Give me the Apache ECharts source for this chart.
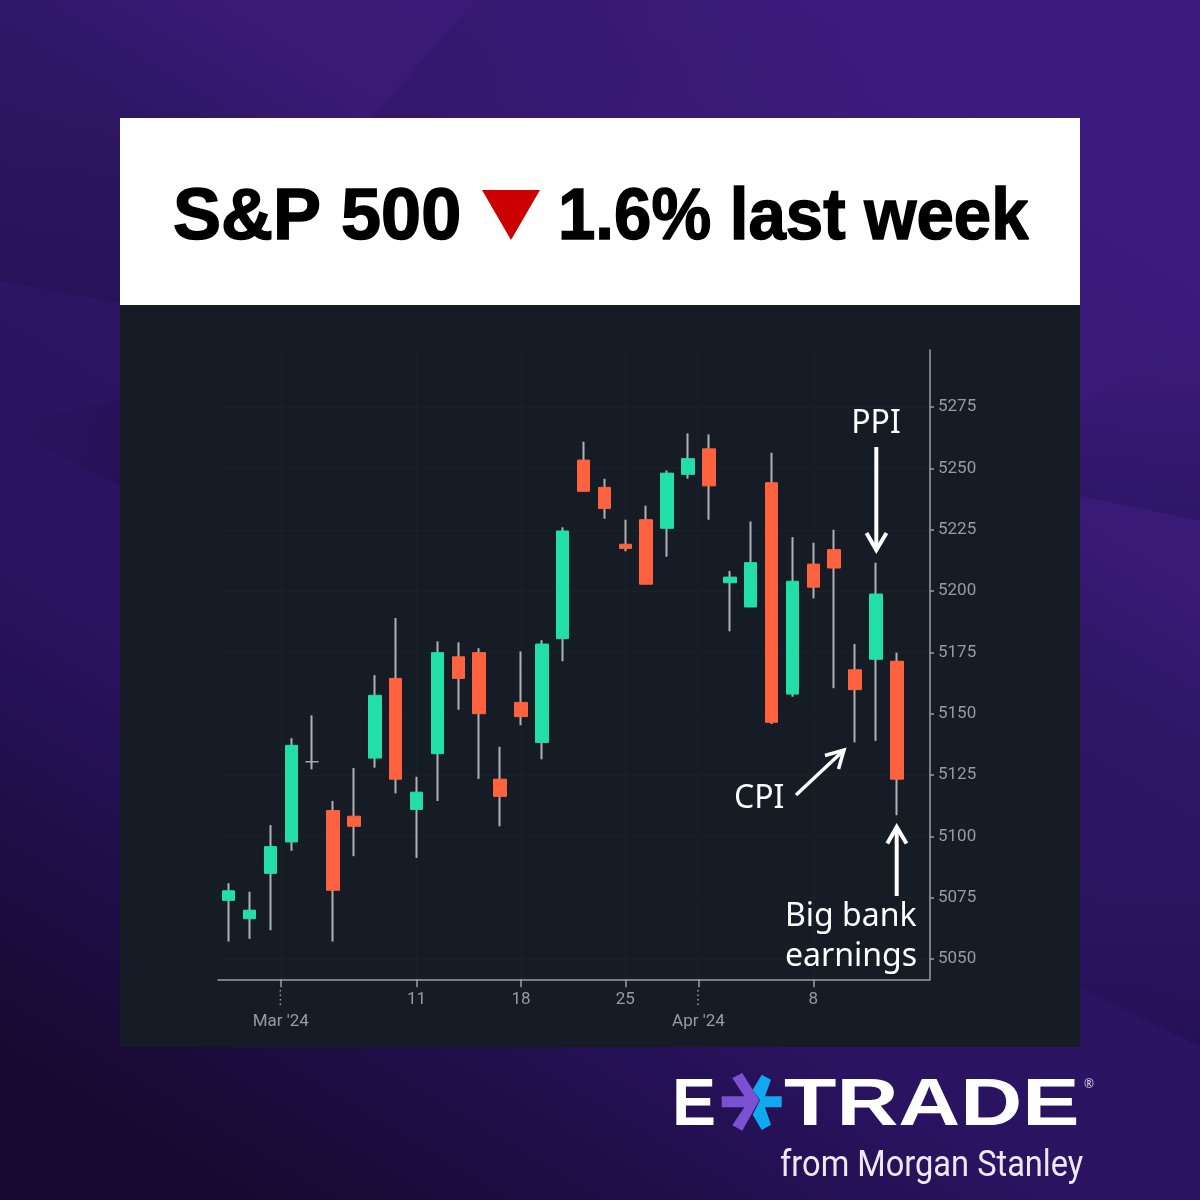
<!DOCTYPE html>
<html>
<head>
<meta charset="utf-8">
<title>S&amp;P 500</title>
<script src="https://cdn.jsdelivr.net/npm/echarts@6/dist/echarts.min.js"></script>
<style>
  html, body { margin: 0; padding: 0; background: #21104c; }
  #main { width: 1200px; height: 1200px; }
</style>
</head>
<body>
<div id="main"></div>
<script>
// sessions, Feb 27 to Apr 12 2024 (x position = index in this list)
const sessions = ['Feb 27', 'Feb 28', 'Feb 29', 'Mar 1', 'Mar 4', 'Mar 5', 'Mar 6', 'Mar 7', 'Mar 8', 'Mar 11', 'Mar 12',
  'Mar 13', 'Mar 14', 'Mar 15', 'Mar 18', 'Mar 19', 'Mar 20', 'Mar 21', 'Mar 22', 'Mar 25', 'Mar 26', 'Mar 27', 'Mar 28',
  'Apr 1', 'Apr 2', 'Apr 3', 'Apr 4', 'Apr 5', 'Apr 8', 'Apr 9', 'Apr 10', 'Apr 11', 'Apr 12']
const opens = [5073.9, 5066.4, 5084.9, 5097.7, 5130.4, 5110.5, 5108.2, 5131.9, 5164.4, 5111, 5133.7,
  5173.2, 5174.9, 5123.3, 5154.6, 5138.3, 5180.6, 5253.4, 5242.3, 5219.1, 5229.1, 5225.6, 5247.6,
  5258, 5203.4, 5193.5, 5244.2, 5158, 5211, 5216.9, 5167.9, 5172.2, 5171.4]
const closes = [5077.8, 5069.9, 5095.8, 5137.1, 5130.4, 5078, 5104.1, 5157.5, 5123.3, 5118, 5174.9,
  5164.4, 5150, 5116.3, 5148.8, 5178.4, 5224.5, 5240.7, 5233.7, 5217.4, 5202.8, 5248.1, 5254,
  5242.9, 5205.7, 5211.6, 5146.5, 5204, 5201.6, 5209.4, 5159.8, 5198.8, 5123.3]
const lows = [5057.1, 5058.2, 5061.7, 5094.1, 5127.3, 5057.1, 5091.9, 5128, 5117.5, 5091.2, 5114.4,
  5151.6, 5123.4, 5104.1, 5145.3, 5131.4, 5171.4, 5240.7, 5229.5, 5216.2, 5202.8, 5214, 5245.8,
  5229.1, 5183.6, 5193.5, 5145.8, 5156.9, 5197, 5160.4, 5138.3, 5138.9, 5108.6]
const highs = [5080.9, 5077.4, 5104.6, 5140, 5149.3, 5114.4, 5127.9, 5165.7, 5189, 5124.3, 5179.5,
  5179.1, 5176.7, 5136.5, 5175.4, 5180, 5226, 5260.9, 5245.8, 5229.1, 5234.8, 5249.2, 5264.3,
  5263.9, 5208.2, 5228.4, 5256.4, 5222, 5219.7, 5225, 5178.4, 5211.6, 5174.9]

const priceTicks = [5050, 5075, 5100, 5125, 5150, 5175, 5200, 5225, 5250, 5275]
const dateTicks = [2.5, 9, 14, 19, 22.5, 28]
const dateLabels = ["\nMar '24", '11', '18', '25', "\nApr '24", '8']

const chart = echarts.init(document.getElementById('main'), null, { renderer: 'canvas' })

const green = '#21dfa6'
const red = '#ff623f'
const wickColor = '#aeb2b6'
const axisColor = '#9b9fa4'
const labelColor = '#989ca1'
const gridColor = '#19212a'
const panelColor = '#151c25'

function poly (points, fill, z) {
  return { type: 'polygon', z: z, silent: true, shape: { points: points }, style: { fill: fill } }
}
function stroke (points, width, color, dash) {
  return {
    type: 'polyline',
    z: 100,
    silent: true,
    shape: { points: points },
    style: { stroke: color || '#fff', lineWidth: width, fill: null, lineCap: 'butt', lineJoin: 'miter', lineDash: dash || null }
  }
}
function text (str, x, y, size, opts) {
  opts = opts || {}
  return {
    type: 'text',
    z: 100,
    silent: true,
    x: x,
    y: y,
    scaleX: opts.scaleX || 1,
    style: {
      text: str,
      fontFamily: opts.family || 'Noto Sans',
      fontSize: size,
      fontWeight: opts.weight || 'normal',
      fill: opts.fill || '#fff',
      stroke: opts.stroke || null,
      lineWidth: opts.strokeWidth || 0,
      verticalAlign: 'middle',
      align: opts.align || 'left'
    }
  }
}
function fade (x, y, x2, y2, alpha) {
  return new echarts.graphic.LinearGradient(x, y, x2, y2, [
    { offset: 0, color: 'rgba(10,4,40,' + alpha + ')' },
    { offset: 1, color: 'rgba(10,4,40,0)' }
  ])
}

const elements = [
  // background facets
  poly([[475, 0], [370, 120], [880, 120], [880, 0]], fade(0, 0, 1, 0, 0.12), -5),
  poly([[0, 100], [120, 100], [120, 303], [0, 281]], fade(0, 1, 0, 0, 0.14), -5),
  poly([[0, 426], [120, 486], [120, 400]], fade(1, 0.7, 0, 0.4, 0.16), -5),
  poly([[1080, 496], [1200, 521], [1200, 340], [1080, 400]], fade(0, 1, 0, 0, 0.2), -5),
  poly([[1080, 988], [1200, 1047], [1200, 900], [1080, 880]], fade(0, 1, 0, 0, 0.2), -5),
  // panels
  { type: 'rect', z: -4, silent: true, shape: { x: 120, y: 118, width: 960, height: 187 }, style: { fill: '#fff' } },
  { type: 'rect', z: -4, silent: true, shape: { x: 120, y: 305, width: 960, height: 742 }, style: { fill: panelColor } },
  // headline
  text('S&P 500', 173, 219, 72, { family: 'Liberation Sans', weight: 'bold', fill: '#000', stroke: '#000', strokeWidth: 1.5 }),
  poly([[482, 190], [540, 190], [511, 240]], '#cc0000', 100),
  text('1.6% last week', 558, 219, 72, { family: 'Liberation Sans', weight: 'bold', fill: '#000', stroke: '#000', strokeWidth: 1.5, scaleX: 0.933 }),
  // month separators under the date axis
  stroke([[280.4, 990], [280.4, 1007]], 1.5, labelColor, [1.5, 3]),
  stroke([[698, 990], [698, 1007]], 1.5, labelColor, [1.5, 3]),
  // annotations
  text('PPI', 876, 424, 32, { align: 'center' }),
  stroke([[876.3, 447], [876.3, 549]], 4),
  stroke([[866.5, 533], [876.3, 550], [886.5, 533]], 4),
  text('CPI', 734, 799, 32),
  stroke([[796, 795], [843, 751]], 3.5),
  stroke([[825, 755.5], [844, 750], [838.5, 769]], 3.5),
  stroke([[896.7, 896], [896.7, 828]], 4),
  stroke([[887.3, 843.5], [896.7, 827], [906.5, 843.5]], 4),
  text('Big bank', 785, 917, 32),
  text('earnings', 785, 957, 32),
  // logo
  text('E', 672, 1107, 66, { family: 'Liberation Sans', weight: 'bold' }),
  poly([[721.7, 1096.3], [744.3, 1096.3], [732.3, 1078], [742.3, 1073], [759.3, 1100.3], [742.3, 1130.7], [732.3, 1125.3], [744.3, 1107.3], [721.7, 1107.3]], '#7c50d2', 100),
  poly([[752.7, 1089.7], [761.7, 1074.7], [771, 1079.7], [765, 1096.3], [781.7, 1096.3], [781.7, 1107.3], [765, 1107.3], [771, 1124.7], [761.7, 1130], [752.7, 1114.7], [760, 1100.3]], '#10a9f0', 100),
  text('TRADE', 784, 1107, 66, { family: 'Liberation Sans', weight: 'bold', scaleX: 1.3 }),
  text('®', 1084, 1085, 12, { fill: '#d8d4e6' }),
  text('from Morgan Stanley', 780, 1167, 36, { family: 'Roboto', fill: '#ece9f4', scaleX: 0.905 })
]

const option = {
  animation: false,
  backgroundColor: new echarts.graphic.LinearGradient(0.8, 0, 0.2, 1, [
    { offset: 0, color: '#3c1c7e' },
    { offset: 0.28, color: '#381a76' },
    { offset: 0.38, color: '#2e1664' },
    { offset: 0.7, color: '#2a1360' },
    { offset: 0.85, color: '#1f0e48' },
    { offset: 1, color: '#170930' }
  ]),
  grid: { left: 218, top: 350, width: 712, height: 629.3 },
  xAxis: {
    type: 'value',
    min: -0.51,
    max: 33.59,
    axisLine: { onZero: false, lineStyle: { color: axisColor, width: 1.5 } },
    axisTick: { customValues: dateTicks, length: 8, lineStyle: { color: axisColor, width: 1.5 } },
    axisLabel: {
      customValues: dateTicks,
      formatter: (v) => dateLabels[dateTicks.indexOf(v)],
      color: labelColor,
      fontFamily: 'Roboto',
      fontSize: 17,
      lineHeight: 22,
      margin: 9
    },
    splitLine: { show: true, lineStyle: { color: gridColor, width: 1 } }
  },
  yAxis: {
    type: 'value',
    position: 'right',
    min: 5041.7,
    max: 5298.3,
    axisLine: { show: true, onZero: false, lineStyle: { color: axisColor, width: 1.5 } },
    axisTick: { show: true, customValues: priceTicks, length: 4, lineStyle: { color: axisColor, width: 1.5 } },
    axisLabel: {
      customValues: priceTicks,
      formatter: (v) => String(v),
      color: labelColor,
      fontFamily: 'Roboto',
      fontSize: 17,
      margin: 8
    },
    splitLine: { show: true, lineStyle: { color: gridColor, width: 1 } }
  },
  graphic: { elements: elements },
  series: [
    {
      // wicks
      type: 'candlestick',
      barWidth: 1,
      itemStyle: { color: wickColor, color0: wickColor, borderColor: wickColor, borderColor0: wickColor, borderColorDoji: wickColor, borderWidth: 2 },
      data: sessions.map((s, i) => [i, opens[i], closes[i], lows[i], highs[i]])
    },
    {
      // bodies
      type: 'candlestick',
      barWidth: 13,
      itemStyle: { color: green, color0: red, borderColor: green, borderColor0: red, borderColorDoji: wickColor, borderWidth: 1 },
      data: sessions.map((s, i) => [i, opens[i], closes[i], Math.min(opens[i], closes[i]), Math.max(opens[i], closes[i])])
    }
  ]
}

chart.setOption(option)
</script>
</body>
</html>
